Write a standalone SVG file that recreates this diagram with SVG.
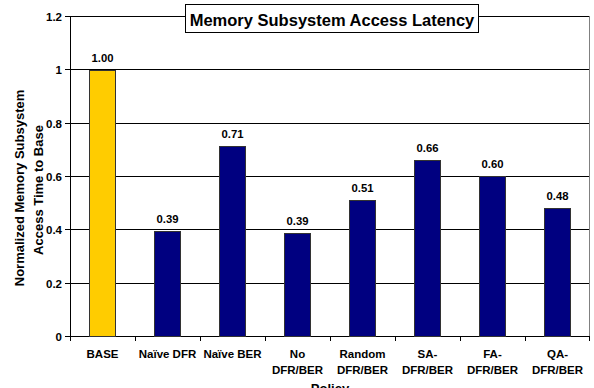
<svg xmlns="http://www.w3.org/2000/svg" width="594" height="388" viewBox="0 0 594 388">
<style>
text{font-family:"Liberation Sans",Arial,sans-serif;font-weight:bold;fill:#000}
.tk{font-size:11.5px;text-anchor:end}
.cat{font-size:11.5px;text-anchor:middle}
.val{font-size:11.3px;text-anchor:middle}
.grid{stroke:#000;stroke-width:1}
.bar{stroke:#333;stroke-width:1}
.base{fill:#FFCC00}
.navy{fill:#000080}
</style>
<rect x="0" y="0" width="594" height="388" fill="#fff"/>
<g id="plot-frame">
<rect x="70.5" y="16.5" width="519" height="320" fill="none" stroke="#808080"/>
</g>
<g id="grid">
<line class="grid" x1="70" y1="16.5" x2="589" y2="16.5" stroke="#808080"/>
<line class="grid" x1="70" y1="69.5" x2="589" y2="69.5"/>
<line class="grid" x1="70" y1="123.5" x2="589" y2="123.5"/>
<line class="grid" x1="70" y1="176.5" x2="589" y2="176.5"/>
<line class="grid" x1="70" y1="229.5" x2="589" y2="229.5"/>
<line class="grid" x1="70" y1="283.5" x2="589" y2="283.5"/>
</g>
<g id="axes" stroke="#000">
<line x1="70.5" y1="16" x2="70.5" y2="337"/>
<line x1="70" y1="336.5" x2="590" y2="336.5"/>
<line x1="65" y1="16.5" x2="70" y2="16.5"/>
<line x1="65" y1="69.5" x2="70" y2="69.5"/>
<line x1="65" y1="123.5" x2="70" y2="123.5"/>
<line x1="65" y1="176.5" x2="70" y2="176.5"/>
<line x1="65" y1="229.5" x2="70" y2="229.5"/>
<line x1="65" y1="283.5" x2="70" y2="283.5"/>
<line x1="65" y1="336.5" x2="70" y2="336.5"/>
<line x1="70.5" y1="336" x2="70.5" y2="341"/>
<line x1="135.5" y1="336" x2="135.5" y2="341"/>
<line x1="200.5" y1="336" x2="200.5" y2="341"/>
<line x1="265.5" y1="336" x2="265.5" y2="341"/>
<line x1="330.5" y1="336" x2="330.5" y2="341"/>
<line x1="395.5" y1="336" x2="395.5" y2="341"/>
<line x1="460.5" y1="336" x2="460.5" y2="341"/>
<line x1="525.5" y1="336" x2="525.5" y2="341"/>
<line x1="589.5" y1="336" x2="589.5" y2="341"/>
</g>
<g id="ticks">
<text class="tk" x="62" y="21">1.2</text>
<text class="tk" x="62" y="74">1</text>
<text class="tk" x="62" y="128">0.8</text>
<text class="tk" x="62" y="181">0.6</text>
<text class="tk" x="62" y="234">0.4</text>
<text class="tk" x="62" y="288">0.2</text>
<text class="tk" x="62" y="341">0</text>
</g>
<g id="bar-base"><rect class="bar base" x="89.5" y="70.5" width="26" height="266"/><text class="val" x="102.5" y="62">1.00</text><text class="cat" x="102.5" y="358">BASE</text></g>
<g id="bar-naive-dfr"><rect class="bar navy" x="154.5" y="231.5" width="26" height="105"/><text class="val" x="167.5" y="223">0.39</text><text class="cat" x="167.5" y="358">Naïve DFR</text></g>
<g id="bar-naive-ber"><rect class="bar navy" x="219.5" y="146.5" width="26" height="190"/><text class="val" x="232.5" y="138">0.71</text><text class="cat" x="232.5" y="358">Naïve BER</text></g>
<g id="bar-no"><rect class="bar navy" x="284.5" y="233.5" width="26" height="103"/><text class="val" x="297.5" y="225">0.39</text><text class="cat" x="297.5" y="358">No</text><text class="cat" x="297.5" y="374">DFR/BER</text></g>
<g id="bar-random"><rect class="bar navy" x="349.5" y="200.5" width="26" height="136"/><text class="val" x="362.5" y="192">0.51</text><text class="cat" x="362.5" y="358">Random</text><text class="cat" x="362.5" y="374">DFR/BER</text></g>
<g id="bar-sa"><rect class="bar navy" x="414.5" y="160.5" width="26" height="176"/><text class="val" x="427.5" y="152">0.66</text><text class="cat" x="427.5" y="358">SA-</text><text class="cat" x="427.5" y="374">DFR/BER</text></g>
<g id="bar-fa"><rect class="bar navy" x="479.5" y="176.5" width="26" height="160"/><text class="val" x="492.5" y="168">0.60</text><text class="cat" x="492.5" y="358">FA-</text><text class="cat" x="492.5" y="374">DFR/BER</text></g>
<g id="bar-qa"><rect class="bar navy" x="544.5" y="208.5" width="26" height="128"/><text class="val" x="557.5" y="200">0.48</text><text class="cat" x="557.5" y="358">QA-</text><text class="cat" x="557.5" y="374">DFR/BER</text></g>
<g id="title">
<rect x="185.5" y="4.5" width="293" height="28" fill="#fff" stroke="#000"/>
<text x="332" y="25.5" style="font-size:16.5px;text-anchor:middle">Memory Subsystem Access Latency</text>
</g>
<g id="axis-titles">
<text transform="translate(24,188) rotate(-90)" style="font-size:13px;text-anchor:middle">Normalized Memory Subsystem</text>
<text transform="translate(43,190) rotate(-90)" style="font-size:13px;text-anchor:middle">Access Time to Base</text>
<text x="330" y="393" style="font-size:13px;text-anchor:middle">Policy</text>
</g>
</svg>
